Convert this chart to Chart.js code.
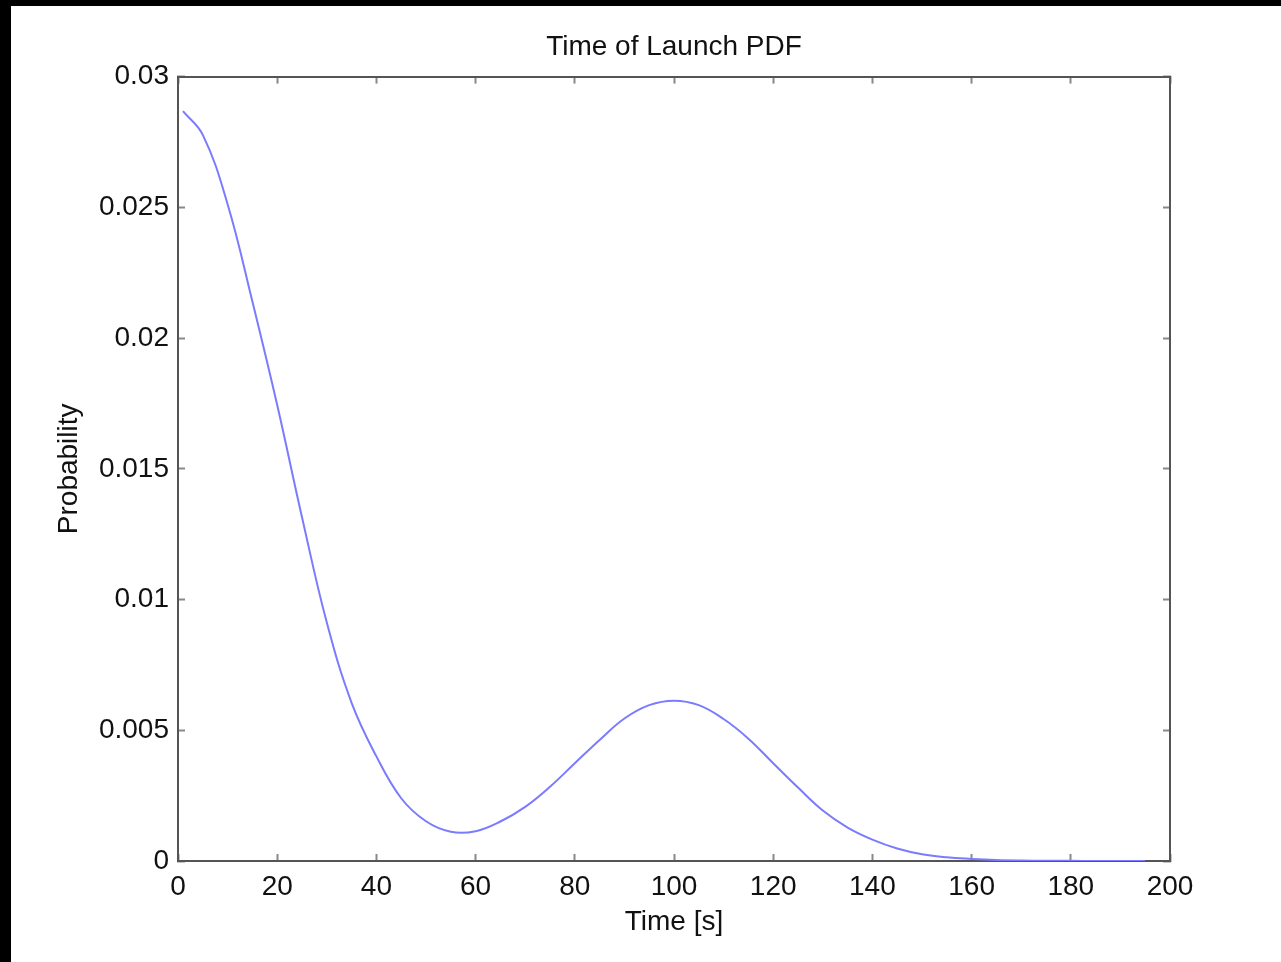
<!DOCTYPE html>
<html>
<head>
<meta charset="utf-8">
<title>Time of Launch PDF</title>
<script src="https://cdn.jsdelivr.net/npm/chart.js@4/dist/chart.umd.min.js"></script>
<style>
  html, body { margin: 0; padding: 0; background: #000; }
  #frame { position: absolute; left: 11px; top: 6px; width: 1270px; height: 956px; background: #fff; }
  #pdfChart { display: block; }
</style>
</head>
<body>
<div id="frame"><canvas id="pdfChart" width="1270" height="956"></canvas></div>
<script>
// values
const timeS = [1, 5, 10, 15, 20, 25, 30, 35, 40, 45, 50, 55, 60, 65, 70, 75, 80, 85, 90, 95,
  100, 105, 110, 115, 120, 125, 130, 135, 140, 145, 150, 155, 160, 165, 170, 175, 180, 185, 190, 195];
const probability = [0.02868, 0.02777, 0.02512, 0.02140, 0.01744, 0.01315, 0.00912, 0.00605, 0.00400, 0.00240,
  0.00152, 0.00112, 0.00114, 0.00151, 0.00207, 0.00284, 0.00374, 0.00463, 0.00545, 0.00596,
  0.00613, 0.00596, 0.00543, 0.00468, 0.00374, 0.00281, 0.00193, 0.00128, 0.00082, 0.00048,
  0.00026, 0.00014, 0.00008, 0.00004, 0.00002, 0.00001, 0.000005, 0, 0, 0];
const xTicks = [0, 20, 40, 60, 80, 100, 120, 140, 160, 180, 200];
const yTicks = [0, 0.005, 0.01, 0.015, 0.02, 0.025, 0.03];

(function () {
  const font = { family: '"Liberation Sans", Arial, Helvetica, sans-serif', size: 28 };
  const axisColor = '#555';

  const useTicks = list => scale => { scale.ticks = list.map(v => ({ value: v })); };
  const fmt = v => String(+Number(v).toFixed(3));

  // shared look for the box axes: inward ticks, no grid
  const boxGrid = { drawOnChartArea: false, drawTicks: true, tickLength: -7, tickWidth: 2, color: '#888' };
  const boxBorder = { display: true, color: axisColor, width: 2 };

  new Chart(document.getElementById('pdfChart'), {
    type: 'line',
    data: {
      datasets: [{
        label: 'PDF',
        data: timeS.map((t, i) => ({ x: t, y: probability[i] })),
        borderColor: '#7b7bff',
        borderWidth: 2,
        pointRadius: 0,
        tension: 0.4,
        fill: false
      }]
    },
    options: {
      responsive: false,
      animation: false,
      devicePixelRatio: 1,
      layout: { padding: { left: 0, top: 0, right: 111, bottom: 0 } },
      plugins: {
        legend: { display: false },
        tooltip: { enabled: false },
        title: {
          display: true,
          text: 'Time of Launch PDF',
          fullSize: false,
          color: '#111',
          font: { ...font, weight: 'normal' },
          padding: { top: 24, bottom: 13 }
        }
      },
      scales: {
        x: {
          type: 'linear', position: 'bottom', min: 0, max: 200,
          afterBuildTicks: useTicks(xTicks),
          afterFit: s => { s.height = 101; },
          grid: boxGrid, border: boxBorder,
          ticks: { color: '#111', font, padding: 16, maxRotation: 0, autoSkip: false, callback: fmt },
          title: { display: true, text: 'Time [s]', color: '#111', font, padding: { top: 0, bottom: 23 } }
        },
        y: {
          type: 'linear', position: 'left', min: 0, max: 0.03,
          afterBuildTicks: useTicks(yTicks),
          afterFit: s => { s.width = 167; },
          grid: boxGrid, border: boxBorder,
          ticks: { color: '#111', font, padding: 16, autoSkip: false, callback: fmt },
          title: { display: true, text: 'Probability', color: '#111', font, padding: { top: 41, bottom: 0 } }
        },
        x2: {
          type: 'linear', position: 'top', min: 0, max: 200,
          afterBuildTicks: useTicks(xTicks),
          afterFit: s => { s.height = 0; },
          grid: boxGrid, border: boxBorder,
          ticks: { display: false }
        },
        y2: {
          type: 'linear', position: 'right', min: 0, max: 0.03,
          afterBuildTicks: useTicks(yTicks),
          afterFit: s => { s.width = 0; },
          grid: boxGrid, border: boxBorder,
          ticks: { display: false }
        }
      }
    }
  });
})();
</script>
</body>
</html>
